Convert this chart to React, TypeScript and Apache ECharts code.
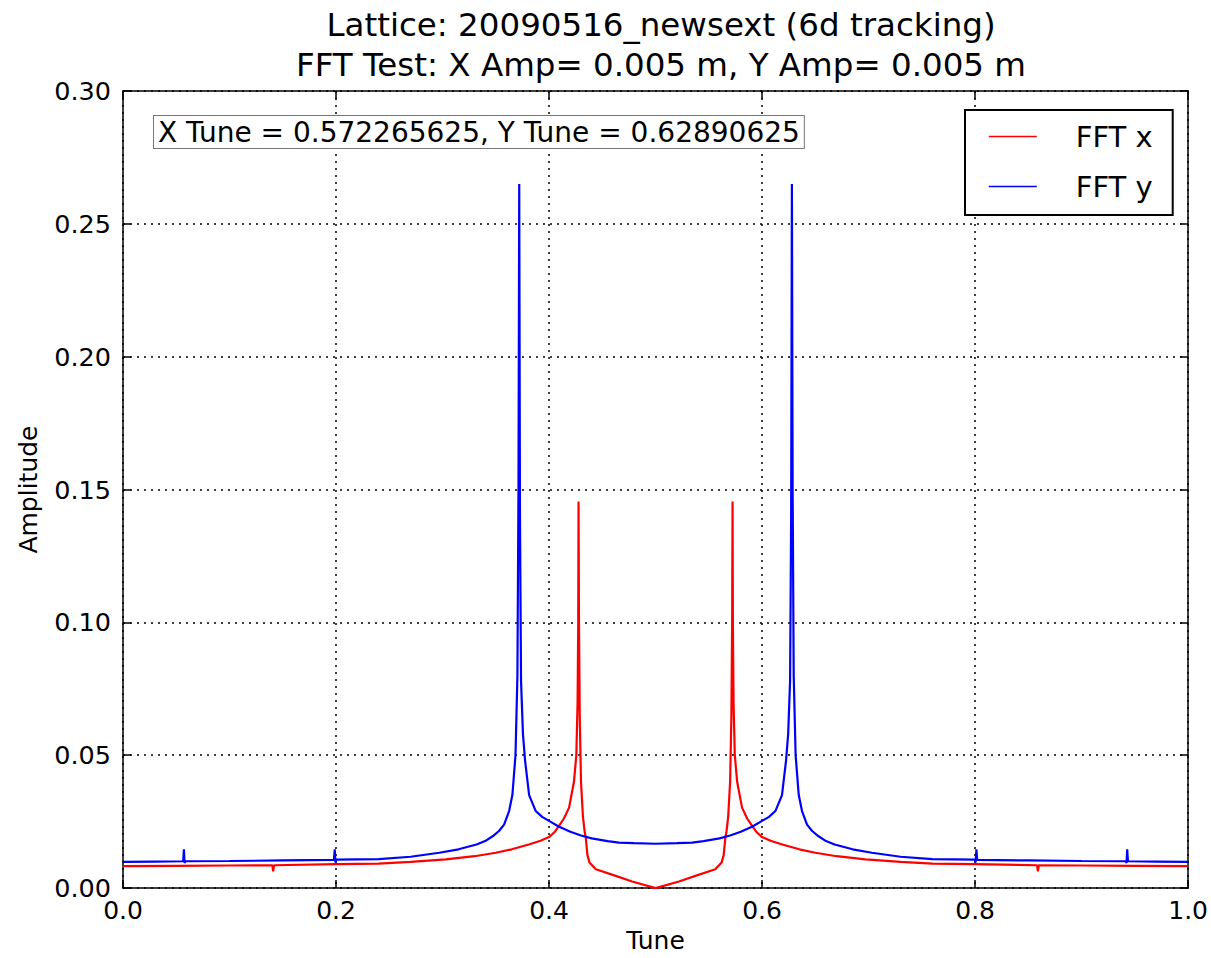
import React, { useEffect, useRef } from "react";
import * as echarts from "echarts";

const titleLines = [
  "Lattice: 20090516_newsext (6d tracking)",
  "FFT Test: X Amp= 0.005 m, Y Amp= 0.005 m",
];
const annotationText = "X Tune = 0.572265625, Y Tune = 0.62890625";
const seriesNames = ["FFT x", "FFT y"];
const xAxisName = "Tune";
const yAxisName = "Amplitude";

// FFT x (red)
const fftXTune = [
  0, 0.05, 0.1, 0.1402, 0.141, 0.1418, 0.2, 0.24, 0.27, 0.303, 0.33, 0.35, 0.365, 0.381,
  0.392, 0.4, 0.405, 0.409, 0.414, 0.4188, 0.4234, 0.4256, 0.4268, 0.4274, 0.4277, 0.4281,
  0.4288, 0.43, 0.4318, 0.4335, 0.4344, 0.4352, 0.436, 0.438, 0.4439, 0.4626, 0.478, 0.5,
  0.522, 0.5374, 0.5561, 0.562, 0.564, 0.5648, 0.5656, 0.5665, 0.5682, 0.57, 0.5712, 0.5719,
  0.5723, 0.5726, 0.5732, 0.5744, 0.5766, 0.5812, 0.586, 0.591, 0.595, 0.6, 0.608, 0.619,
  0.635, 0.65, 0.67, 0.697, 0.73, 0.76, 0.8, 0.8582, 0.859, 0.8598, 0.9, 0.95, 1.0,
];
const fftXAmp = [
  0.0083, 0.0084, 0.0085, 0.0086, 0.0063, 0.0086, 0.009, 0.0092, 0.0099, 0.0108, 0.012, 0.0133,
  0.0146, 0.0164, 0.0178, 0.0192, 0.021, 0.0232, 0.0262, 0.0303, 0.04, 0.05, 0.07, 0.1, 0.1455,
  0.1, 0.065, 0.04, 0.027, 0.021, 0.0193, 0.016, 0.0125, 0.0096, 0.0071, 0.0046, 0.0025, 0.0,
  0.0025, 0.0046, 0.0071, 0.0096, 0.0125, 0.016, 0.0193, 0.021, 0.027, 0.04, 0.065, 0.1,
  0.1455, 0.1, 0.07, 0.05, 0.04, 0.0303, 0.0262, 0.0232, 0.021, 0.0192, 0.0178, 0.0164,
  0.0146, 0.0133, 0.012, 0.0108, 0.0099, 0.0092, 0.009, 0.0086, 0.0063, 0.0086, 0.0085,
  0.0084, 0.0083,
];

// FFT y (blue)
const fftYTune = [
  0, 0.03, 0.0565, 0.0572, 0.0578, 0.0586, 0.1, 0.15, 0.198, 0.1988, 0.1995, 0.2003, 0.24,
  0.27, 0.2969, 0.315, 0.3319, 0.34, 0.347, 0.353, 0.3578, 0.3625, 0.3656, 0.3685, 0.3703,
  0.3713, 0.372, 0.3727, 0.3737, 0.3755, 0.3775, 0.3813, 0.3875, 0.3935, 0.4, 0.409, 0.42,
  0.43, 0.44, 0.455, 0.4656, 0.48, 0.5, 0.52, 0.5344, 0.545, 0.56, 0.57, 0.58, 0.591, 0.6,
  0.6065, 0.6125, 0.6187, 0.6225, 0.6245, 0.6263, 0.6273, 0.628, 0.6287, 0.6297, 0.6315,
  0.6344, 0.6375, 0.6422, 0.647, 0.653, 0.66, 0.6681, 0.685, 0.7031, 0.73, 0.76, 0.7997,
  0.8005, 0.8012, 0.802, 0.85, 0.9, 0.9414, 0.9422, 0.9428, 0.9435, 0.97, 1.0,
];
const fftYAmp = [
  0.0099, 0.01, 0.0101, 0.0146, 0.0095, 0.0101, 0.0102, 0.0104, 0.0106, 0.0146, 0.0097,
  0.0107, 0.0109, 0.0118, 0.0133, 0.0146, 0.0164, 0.0177, 0.0195, 0.0215, 0.0239, 0.029,
  0.0351, 0.05, 0.08, 0.15, 0.265, 0.14, 0.078, 0.058, 0.048, 0.035, 0.029, 0.0268, 0.0253,
  0.0232, 0.0212, 0.0198, 0.0187, 0.0177, 0.0171, 0.0169, 0.0167, 0.0169, 0.0171, 0.0177,
  0.0187, 0.0198, 0.0212, 0.0232, 0.0253, 0.0268, 0.029, 0.035, 0.048, 0.058, 0.078, 0.14,
  0.265, 0.15, 0.08, 0.05, 0.0351, 0.029, 0.0239, 0.0215, 0.0195, 0.0177, 0.0164, 0.0146,
  0.0133, 0.0118, 0.0109, 0.0107, 0.0097, 0.0146, 0.0106, 0.0104, 0.0102, 0.0101, 0.0095,
  0.0146, 0.0101, 0.01, 0.0099,
];

const FONT = "DejaVu Sans";

export default function App() {
  const ref = useRef<HTMLDivElement>(null);
  useEffect(() => {
    document.body.style.margin = "0";
    const chart = echarts.init(ref.current!, null, { renderer: "svg" });
    const xData = fftXTune.map((t, i) => [t, fftXAmp[i]]);
    const yData = fftYTune.map((t, i) => [t, fftYAmp[i]]);
    const axisLineStyle = { color: "#000", width: 1.5 };
    const gridLineStyle = { color: "#000", width: 1.5, type: [2, 5] as any };
    chart.setOption({
      animation: false,
      backgroundColor: "#fff",
      textStyle: { fontFamily: FONT },
      title: {
        text: titleLines.join("\n"),
        left: 656,
        top: 0,
        textAlign: "center",
        textStyle: { fontFamily: FONT, fontSize: 32.5, fontWeight: "normal", color: "#000", lineHeight: 40 },
      },
      grid: { left: 123, right: 21, top: 91, bottom: 64, containLabel: false },
      legend: {
        data: seriesNames,
        orient: "vertical",
        left: 965,
        top: 110,
        padding: [12, 20, 14, 23],
        itemGap: 21,
        itemWidth: 48,
        itemHeight: 28,
        borderColor: "#000",
        borderWidth: 2,
        backgroundColor: "#fff",
        itemStyle: { opacity: 0, borderWidth: 0 },
        lineStyle: { width: 1.5 },
        textStyle: { fontFamily: FONT, fontSize: 29, color: "#000", padding: [0, 0, 0, 34], lineHeight: 28 },
      },
      xAxis: [
        {
          type: "value",
          min: 0,
          max: 1,
          interval: 0.2,
          position: "bottom",
          name: xAxisName,
          nameLocation: "middle",
          nameGap: 36,
          nameTextStyle: { fontFamily: FONT, fontSize: 25, color: "#000" },
          axisLine: { show: true, onZero: false, lineStyle: axisLineStyle },
          axisTick: { show: true, inside: true, length: 8, lineStyle: { color: "#000", width: 1.5 } },
          axisLabel: { fontFamily: FONT, fontSize: 25, color: "#000", margin: 10, formatter: (v: number) => v.toFixed(1) },
          splitLine: { show: true, lineStyle: gridLineStyle },
        },
        {
          type: "value",
          min: 0,
          max: 1,
          interval: 0.2,
          position: "top",
          axisLine: { show: true, onZero: false, lineStyle: axisLineStyle },
          axisTick: { show: true, inside: true, length: 8, lineStyle: { color: "#000", width: 1.5 } },
          axisLabel: { show: false },
          splitLine: { show: false },
        },
      ],
      yAxis: [
        {
          type: "value",
          min: 0,
          max: 0.3,
          interval: 0.05,
          position: "left",
          name: yAxisName,
          nameLocation: "middle",
          nameGap: 82,
          nameTextStyle: { fontFamily: FONT, fontSize: 25, color: "#000" },
          axisLine: { show: true, onZero: false, lineStyle: axisLineStyle },
          axisTick: { show: true, inside: true, length: 8, lineStyle: { color: "#000", width: 1.5 } },
          axisLabel: { fontFamily: FONT, fontSize: 25.5, color: "#000", margin: 12, formatter: (v: number) => v.toFixed(2) },
          splitLine: { show: true, lineStyle: gridLineStyle },
        },
        {
          type: "value",
          min: 0,
          max: 0.3,
          interval: 0.05,
          position: "right",
          axisLine: { show: true, onZero: false, lineStyle: axisLineStyle },
          axisTick: { show: true, inside: true, length: 8, lineStyle: { color: "#000", width: 1.5 } },
          axisLabel: { show: false },
          splitLine: { show: false },
        },
      ],
      graphic: [
        {
          type: "text",
          left: 153,
          top: 115,
          z: 100,
          style: {
            text: annotationText,
            font: `28px "${FONT}"`,
            fill: "#000",
            backgroundColor: "#fff",
            borderColor: "#777",
            borderWidth: 1,
            padding: [2, 4, 1, 4],
            lineHeight: 29,
          },
        },
      ],
      series: [
        {
          name: seriesNames[0],
          type: "line",
          xAxisIndex: 0,
          yAxisIndex: 0,
          data: xData,
          symbol: "none",
          showSymbol: false,
          lineStyle: { color: "#ff0000", width: 2.2 },
          itemStyle: { color: "#ff0000" },
        },
        {
          name: seriesNames[1],
          type: "line",
          xAxisIndex: 0,
          yAxisIndex: 0,
          data: yData,
          symbol: "none",
          showSymbol: false,
          lineStyle: { color: "#0000ff", width: 2.2 },
          itemStyle: { color: "#0000ff" },
        },
      ],
    });
    return () => chart.dispose();
  }, []);
  return <div ref={ref} style={{ width: 1211, height: 958 }} />;
}
